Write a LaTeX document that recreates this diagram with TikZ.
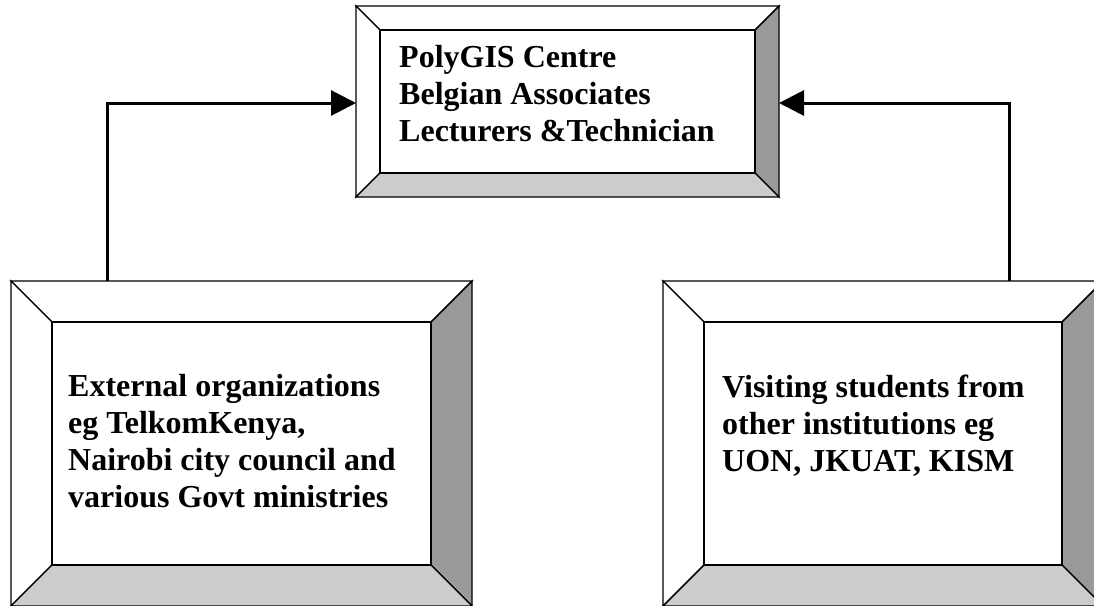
\documentclass[tikz,border=0pt]{standalone}
\usepackage{fontspec}
\setmainfont{Liberation Serif}
\usetikzlibrary{arrows.meta,calc}
\definecolor{darkbev}{HTML}{999999}
\definecolor{lightbev}{HTML}{CCCCCC}
\newcommand\bevelframe[2]{%
  \coordinate (#1-a) at ($(#1.north west)+(#2,#2)$);
  \coordinate (#1-b) at ($(#1.north east)+(-#2,#2)$);
  \coordinate (#1-c) at ($(#1.south east)+(-#2,-#2)$);
  \coordinate (#1-d) at ($(#1.south west)+(#2,-#2)$);
  \draw[bev, fill=white] (#1.north west) -- (#1.north east) -- (#1-b) -- (#1-a) -- cycle;
  \draw[bev, fill=white] (#1.north west) -- (#1-a) -- (#1-d) -- (#1.south west) -- cycle;
  \draw[bev, fill=darkbev] (#1.north east) -- (#1.south east) -- (#1-c) -- (#1-b) -- cycle;
  \draw[bev, fill=lightbev] (#1.south west) -- (#1-d) -- (#1-c) -- (#1.south east) -- cycle;
  \draw[bev, fill=white] (#1-a) rectangle (#1-c);
}
\begin{document}
\begin{tikzpicture}[x=1pt,y=-1pt,
  boxshape/.style={rectangle, draw=none, inner sep=0pt, outer sep=0pt},
  bev/.style={draw=black, line width=1.4pt, line join=miter},
  txt/.style={font=\fontsize{32}{37}\selectfont\bfseries, align=left, inner sep=0pt, anchor=north west},
  conn/.style={line width=3pt, -{Triangle[length=25pt,width=25pt]}}]
\useasboundingbox[fill=white] (0,0) rectangle (1094,605);
\node[boxshape, minimum width=423pt, minimum height=191pt] (topbox) at (567.5,101.5) {};
\node[boxshape, minimum width=461pt, minimum height=325pt] (leftbox) at (241.5,443.5) {};
\node[boxshape, minimum width=440pt, minimum height=325pt] (rightbox) at (883,443.5) {};
\bevelframe{topbox}{24}
\bevelframe{leftbox}{41}
\bevelframe{rightbox}{41}
\node[txt] (toptext) at (399,45.5) {PolyGIS Centre\\Belgian Associates\\Lecturers \&Technician};
\node[txt] (lefttext) at (68,374.5) {External organizations\\eg TelkomKenya,\\Nairobi city council and\\various Govt ministries};
\node[txt] (righttext) at (722,374.5) {Visiting students from\\other institutions eg\\UON, JKUAT, KISM};
\coordinate (lj) at (107,103);
\coordinate (rj) at (1009.5,103);
\draw[conn] (leftbox.north -| lj) |- (topbox.west |- lj);
\draw[conn] (rightbox.north -| rj) |- (topbox.east |- rj);
\end{tikzpicture}
\end{document}
